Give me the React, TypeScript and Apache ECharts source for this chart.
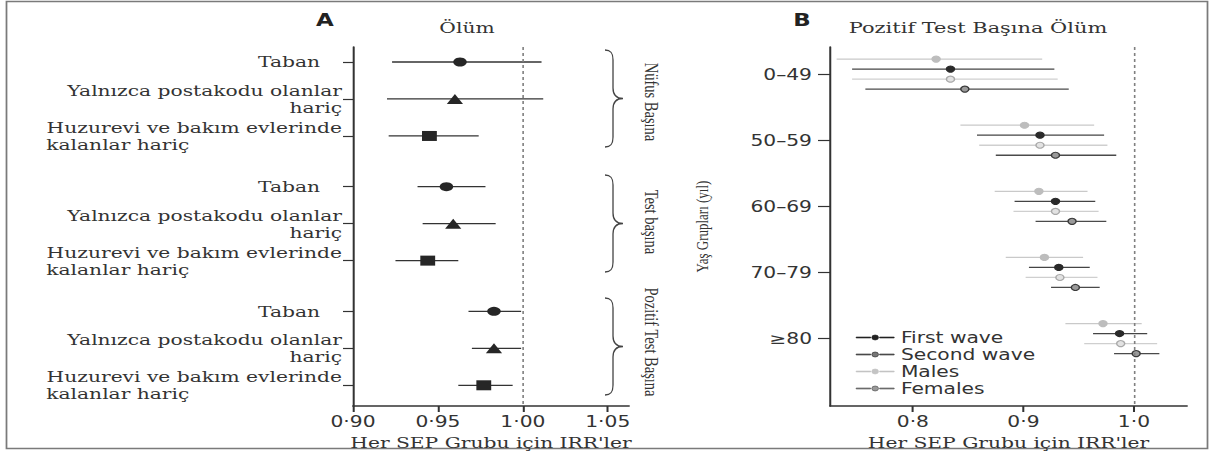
import React, { useEffect, useRef } from 'react';
import * as echarts from 'echarts';

// ---------- Panel A data ----------
const groupNamesA = ['Nüfus Başına', 'Test başına', 'Pozitif Test Başına'];
const rowLabelsA = [
  ['Taban'],
  ['Yalnızca postakodu olanlar', 'hariç'],
  ['Huzurevi ve bakım evlerinde', 'kalanlar hariç'],
];
const markersA = ['circle', 'triangle', 'rect'];
const estA = [
  [0.963, 0.96, 0.945],
  [0.955, 0.959, 0.944],
  [0.983, 0.983, 0.977],
];
const lowA = [
  [0.923, 0.92, 0.921],
  [0.938, 0.941, 0.925],
  [0.968, 0.97, 0.962],
];
const highA = [
  [1.011, 1.012, 0.974],
  [0.978, 0.984, 0.962],
  [0.999, 0.999, 0.994],
];
const xTicksA = [0.9, 0.95, 1.0, 1.05];

// ---------- Panel B data ----------
const ageGroups = ['0–49', '50–59', '60–69', '70–79', '≥80'];
const rowNamesB = ['Males', 'First wave', 'Females', 'Second wave']; // top-to-bottom inside each age group
const legendOrderB = ['First wave', 'Second wave', 'Males', 'Females'];
const estB = [
  [0.821, 0.901, 0.914, 0.919, 0.972],
  [0.834, 0.915, 0.929, 0.932, 0.987],
  [0.834, 0.915, 0.929, 0.933, 0.988],
  [0.847, 0.929, 0.944, 0.947, 1.002],
];
const lowB = [
  [0.731, 0.843, 0.874, 0.884, 0.938],
  [0.745, 0.858, 0.892, 0.905, 0.963],
  [0.745, 0.86, 0.891, 0.902, 0.955],
  [0.757, 0.875, 0.911, 0.925, 0.982],
];
const highB = [
  [0.917, 0.964, 0.958, 0.954, 1.007],
  [0.928, 0.973, 0.965, 0.96, 1.012],
  [0.931, 0.976, 0.968, 0.967, 1.021],
  [0.941, 0.984, 0.975, 0.969, 1.023],
];
const xTicksB = [0.8, 0.9, 1.0];

// ---------- styling / layout ----------
// The reference figure is a horizontally stretched image; reproduce with a CSS stretch.
const SX = 1.35;
const X = (v: number) => v / SX;
const W = 1210;
const H = 459;
const SERIF = 'DejaVu Serif';
const NARROW_SERIF = 'Liberation Serif';
const SANS = 'DejaVu Sans';
const TXT = '#333';
const GROUP_STEP = 3.37;
const rowOffsetsB = [-0.227, -0.076, 0.076, 0.227];
const styleB: Record<string, { line: string; fill: string; border: string }> = {
  Males: { line: '#c9c9c9', fill: '#bdbdbd', border: '#bdbdbd' },
  'First wave': { line: '#444', fill: '#2a2a2a', border: '#2a2a2a' },
  Females: { line: '#cfcfcf', fill: '#e2e2e2', border: '#a9a9a9' },
  'Second wave': { line: '#4a4a4a', fill: '#9a9a9a', border: '#3a3a3a' },
};
const legendStyleB: Record<string, { fill: string; border: string }> = {
  'First wave': { fill: '#222', border: '#222' },
  'Second wave': { fill: '#777', border: '#333' },
  Males: { fill: '#c4c4c4', border: '#c4c4c4' },
  Females: { fill: '#999', border: '#555' },
};

const BRACE_D =
  'M0,0 C6,0 8,3 8,10 L8,38 C8,45 11,48.5 18,48.5 C11,48.5 8,52 8,59 L8,87 C8,94 6,97 0,97';
let braceRegistered = false;

const LEGEND_ICON =
  'path://M0,3.5L13,3.5L13,4.5L0,4.5Z M14,4A3,3,0,1,0,20,4A3,3,0,1,0,14,4Z M21,3.5L34,3.5L34,4.5L21,4.5Z';

export default function App() {
  const ref = useRef<HTMLDivElement>(null);
  useEffect(() => {
    document.body.style.margin = '0';
    if (!braceRegistered) {
      echarts.graphic.registerShape('brace', echarts.graphic.extendPath(BRACE_D, {}) as any);
      braceRegistered = true;
    }
    const chart = echarts.init(ref.current!, null, { renderer: 'svg' });

    const posA: number[] = [];
    for (let g = 0; g < 3; g++) for (let i = 0; i < 3; i++) posA.push(g * GROUP_STEP + i);

    const errA: number[][] = [];
    const ptsA: any[] = [];
    const markerSize: Record<string, number[]> = { circle: [10, 9], triangle: [12, 10], rect: [11, 10] };
    for (let g = 0; g < 3; g++)
      for (let i = 0; i < 3; i++) {
        const p = g * GROUP_STEP + i;
        errA.push([lowA[g][i], highA[g][i], p]);
        ptsA.push({ value: [estA[g][i], p], symbol: markersA[i], symbolSize: markerSize[markersA[i]] });
      }

    const labelA = (v: number) => {
      const idx = posA.findIndex((p) => Math.abs(p - v) < 0.01);
      if (idx < 0) return '';
      const lines = rowLabelsA[idx % 3];
      if (idx % 3 === 0) return `{t|${lines[0]}}`;
      if (idx % 3 === 1) return `{r|${lines[0]}}\n{r|${lines[1]}}`;
      return `{r|${lines[0]}}\n{l|${lines[1]}}`;
    };

    const errRender = (color: string, width: number) => (params: any, api: any) => {
      const y = api.value(2);
      const p1 = api.coord([api.value(0), y]);
      const p2 = api.coord([api.value(1), y]);
      return {
        type: 'line',
        shape: { x1: p1[0], y1: p1[1], x2: p2[0], y2: p2[1] },
        style: { stroke: color, lineWidth: width },
      };
    };

    const refLine = {
      symbol: 'none',
      silent: true,
      label: { show: false },
      lineStyle: { type: [3, 3], color: '#808080', width: 1.2 },
      data: [{ xAxis: 1 }],
    };

    const seriesB: any[] = [];
    rowNamesB.forEach((name, r) => {
      const st = styleB[name];
      seriesB.push({
        type: 'custom',
        name,
        xAxisIndex: 1,
        yAxisIndex: 1,
        renderItem: errRender(st.line, 1.3),
        encode: { x: [0, 1], y: 2 },
        data: ageGroups.map((_, a) => [lowB[r][a], highB[r][a], a + rowOffsetsB[r]]),
        z: 2,
        ...(r === 0 ? { markLine: refLine } : {}),
      });
      seriesB.push({
        type: 'scatter',
        name,
        xAxisIndex: 1,
        yAxisIndex: 1,
        symbol: 'circle',
        symbolSize: [6, 6],
        itemStyle: { color: st.fill, borderColor: st.border, borderWidth: 1.1, opacity: 1 },
        data: ageGroups.map((_, a) => [estB[r][a], a + rowOffsetsB[r]]),
        z: 3,
      });
    });

    const axisLineStyle = { color: '#333', width: 1.5 };

    const graphics: any[] = [
      {
        type: 'rect',
        shape: { x: X(6.5), y: 1.5, width: X(1201), height: 447 },
        style: { fill: 'none', stroke: '#7a7a7a', lineWidth: 1.3 },
        silent: true,
      },
      { type: 'text', x: X(325), y: 20, style: { text: 'A', font: `bold 17px ${SANS}`, fill: '#222', align: 'center', verticalAlign: 'middle' } },
      { type: 'text', x: X(467), y: 28, style: { text: 'Ölüm', font: `15px ${SERIF}`, fill: TXT, align: 'center', verticalAlign: 'middle' } },
      { type: 'text', x: X(802), y: 20, style: { text: 'B', font: `bold 17px ${SANS}`, fill: '#222', align: 'center', verticalAlign: 'middle' } },
      { type: 'text', x: X(978), y: 28, style: { text: 'Pozitif Test Başına Ölüm', font: `15.5px ${SERIF}`, fill: TXT, align: 'center', verticalAlign: 'middle' } },
    ];
    const braceTops = [50, 175, 298];
    const labelCenters = [102, 222, 342];
    groupNamesA.forEach((gname, g) => {
      graphics.push({
        type: 'brace',
        x: X(605),
        y: braceTops[g],
        scaleX: 1 / SX,
        style: { fill: 'none', stroke: '#444', lineWidth: 1.3 },
        silent: true,
      });
      graphics.push({
        type: 'text',
        x: X(651),
        y: labelCenters[g],
        rotation: -Math.PI / 2,
        style: { text: gname, font: `14.5px ${NARROW_SERIF}`, fill: TXT, align: 'center', verticalAlign: 'middle' },
      });
    });

    const richBase = { fontFamily: SERIF, fontSize: 15, color: TXT, lineHeight: 17 };

    chart.setOption({
      animation: false,
      backgroundColor: '#fff',
      grid: [
        { left: X(353), top: 47, width: X(276), height: 359 },
        { left: X(830), top: 47, width: X(357), height: 359 },
      ],
      xAxis: [
        {
          type: 'value',
          gridIndex: 0,
          min: 0.9,
          max: 1.0625,
          splitLine: { show: false },
          axisLine: { show: true, onZero: false, lineStyle: axisLineStyle },
          axisTick: { show: true, customValues: xTicksA, length: 6, lineStyle: axisLineStyle },
          axisLabel: {
            customValues: xTicksA,
            formatter: (v: number) => v.toFixed(2).replace('.', '·'),
            fontFamily: SANS,
            fontSize: 15,
            color: TXT,
            margin: 8,
          },
          name: "Her SEP Grubu için IRR'ler",
          nameLocation: 'middle',
          nameGap: 29,
          nameTextStyle: { fontFamily: SERIF, fontSize: 15, color: TXT },
        },
        {
          type: 'value',
          gridIndex: 1,
          min: 0.725,
          max: 1.048,
          splitLine: { show: false },
          axisLine: { show: true, onZero: false, lineStyle: axisLineStyle },
          axisTick: { show: true, customValues: xTicksB, length: 6, lineStyle: axisLineStyle },
          axisLabel: {
            customValues: xTicksB,
            formatter: (v: number) => v.toFixed(1).replace('.', '·'),
            fontFamily: SANS,
            fontSize: 15,
            color: TXT,
            margin: 8,
          },
          name: "Her SEP Grubu için IRR'ler",
          nameLocation: 'middle',
          nameGap: 29,
          nameTextStyle: { fontFamily: SERIF, fontSize: 15, color: TXT },
        },
      ],
      yAxis: [
        {
          type: 'value',
          gridIndex: 0,
          inverse: true,
          min: -0.405,
          max: 9.3,
          splitLine: { show: false },
          axisLine: { show: true, onZero: false, lineStyle: axisLineStyle },
          axisTick: { show: true, customValues: posA, length: X(10), lineStyle: { color: '#333', width: 1.2 } },
          axisLabel: {
            customValues: posA,
            formatter: labelA,
            margin: X(11),
            rich: {
              t: { ...richBase, padding: [0, X(22), 0, 0] },
              r: { ...richBase, align: 'right' },
              l: { ...richBase, align: 'left' },
            },
          },
        },
        {
          type: 'value',
          gridIndex: 1,
          inverse: true,
          min: -0.41,
          max: 5.02,
          splitLine: { show: false },
          axisLine: { show: true, onZero: false, lineStyle: axisLineStyle },
          axisTick: { show: true, customValues: [0, 1, 2, 3, 4], length: X(12), lineStyle: { color: '#333', width: 1.2 } },
          axisLabel: {
            customValues: [0, 1, 2, 3, 4],
            formatter: (v: number) => ageGroups[Math.round(v)] ?? '',
            fontFamily: SANS,
            fontSize: 15,
            color: TXT,
            margin: X(18),
          },
          name: 'Yaş Grupları (yıl)',
          nameLocation: 'middle',
          nameGap: X(119),
          nameRotate: 90,
          nameTextStyle: { fontFamily: NARROW_SERIF, fontSize: 13, color: TXT },
        },
      ],
      legend: {
        orient: 'vertical',
        left: X(849),
        top: 325,
        itemGap: 2,
        itemWidth: X(38),
        itemHeight: 8,
        icon: LEGEND_ICON,
        textStyle: { fontFamily: SANS, fontSize: 15, color: TXT, lineHeight: 15 },
        data: legendOrderB.map((n) => ({
          name: n,
          icon: LEGEND_ICON,
          itemStyle: { color: legendStyleB[n].fill, borderColor: legendStyleB[n].border, borderWidth: 0.6 },
        })),
        selectedMode: false,
      },
      graphic: graphics,
      series: [
        {
          type: 'custom',
          name: 'A-err',
          xAxisIndex: 0,
          yAxisIndex: 0,
          renderItem: errRender('#333', 1.3),
          encode: { x: [0, 1], y: 2 },
          data: errA,
          markLine: refLine,
          z: 2,
        },
        {
          type: 'scatter',
          name: 'A-est',
          xAxisIndex: 0,
          yAxisIndex: 0,
          itemStyle: { color: '#262626', opacity: 1 },
          data: ptsA,
          z: 3,
        },
        ...seriesB,
      ],
    });
    return () => chart.dispose();
  }, []);
  return (
    <div style={{ width: W, height: H, overflow: 'hidden', background: '#fff' }}>
      <div
        ref={ref}
        style={{ width: W / SX, height: H, transform: `scaleX(${SX})`, transformOrigin: '0 0' }}
      />
    </div>
  );
}
